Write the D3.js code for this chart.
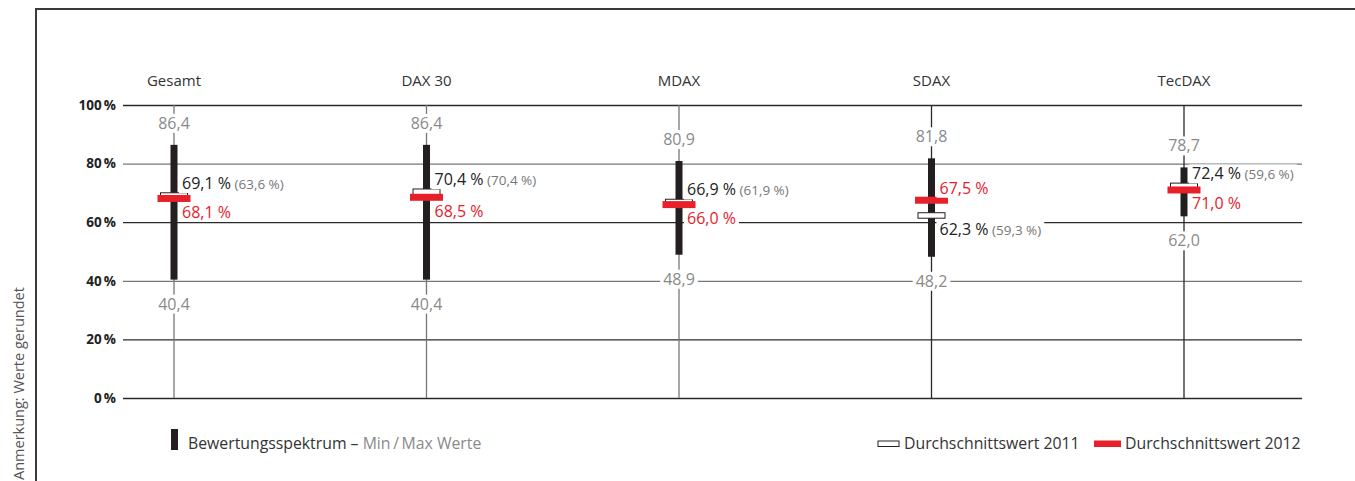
<!DOCTYPE html>
<html>
<head>
<meta charset="utf-8">
<script src="https://cdn.jsdelivr.net/npm/d3@7"></script>
<style>
  body { margin: 0; background: #fff; }
  svg { display: block; font-family: "Open Sans", "Noto Sans", sans-serif; }
</style>
</head>
<body>
<svg id="chart"></svg>
<script>
// data
const categories = ["Gesamt", "DAX 30", "MDAX", "SDAX", "TecDAX"];
const minValues = [40.4, 40.4, 48.9, 48.2, 62.0];
const maxValues = [86.4, 86.4, 80.9, 81.8, 78.7];
const avg2011 = [69.1, 70.4, 66.9, 62.3, 72.4];
const avg2011Prev = [63.6, 70.4, 61.9, 59.3, 59.6];
const avg2012 = [68.1, 68.5, 66.0, 67.5, 71.0];
const yTicks = [0, 20, 40, 60, 80, 100];

const width = 1355, height = 481;
const red = "#e8202a", dark = "#231f20", grey = "#8a8a8a";

const fmt = (v) => d3.format(".1f")(v).replace(".", ",");
const pct = (v) => fmt(v) + " %";

const svg = d3.select("#chart").attr("width", width).attr("height", height);

// scales
const x = d3.scalePoint().domain(categories).range([174, 1184]);
const y = d3.scaleLinear().domain([0, 100]).range([398, 105]);

// frame
svg.append("path")
  .attr("d", `M36,${height}V9H${width}`)
  .attr("fill", "none")
  .attr("stroke", "#3a3a3a")
  .attr("stroke-width", 2);

// note
svg.append("text")
  .attr("transform", `translate(24,480) rotate(-90)`)
  .attr("font-size", 14.5)
  .attr("fill", "#555")
  .text("Anmerkung: Werte gerundet");

// y axis with gridlines
const yAxis = (g) =>
  g.attr("transform", "translate(123,0)")
    .call(d3.axisLeft(y).tickValues(yTicks).tickSize(0).tickPadding(7)
      .tickFormat((d) => d + "\u2009%"))
    .call((g) => g.select(".domain").remove())
    .call((g) => g.selectAll(".tick text")
      .attr("font-family", "'Open Sans', sans-serif")
      .attr("font-size", 13.5).attr("font-weight", 700).attr("fill", "#222"))
    .call((g) => g.selectAll(".tick line").attr("x2", 1302 - 123)
      .attr("stroke", (d) => (d === 80 || d === 40) ? "#777" : "#2a2a2a")
      .attr("stroke-width", 1.3));
svg.append("g").call(yAxis);

// vertical lines per category
svg.append("g")
  .selectAll("line")
  .data(categories)
  .join("line")
  .attr("x1", (d) => x(d)).attr("x2", (d) => x(d))
  .attr("y1", y(100)).attr("y2", y(0))
  .attr("stroke", (d, i) => (i < 3 ? "#777" : "#2a2a2a"))
  .attr("stroke-width", 1.3);

// category labels
svg.append("g")
  .selectAll("text")
  .data(categories)
  .join("text")
  .attr("x", (d) => x(d)).attr("y", 86)
  .attr("text-anchor", "middle")
  .attr("font-size", 15)
  .attr("fill", "#333")
  .text((d) => d);

// helper: text with white background box
function labelWithBg(parent, parts, xPos, yPos, anchor) {
  const g = parent.append("g");
  const bg = g.append("rect").attr("fill", "#fff");
  const t = g.append("text").attr("x", xPos).attr("y", yPos).attr("text-anchor", anchor || "start");
  parts.forEach((p) => {
    t.append("tspan").attr("font-size", p.size).attr("fill", p.color).text(p.text);
  });
  const b = t.node().getBBox();
  bg.attr("x", b.x - 3).attr("y", b.y + 2).attr("width", b.width + 6).attr("height", b.height - 3);
  return g;
}

const rows = categories.map((c, i) => ({
  cat: c, min: minValues[i], max: maxValues[i],
  a11: avg2011[i], prev: avg2011Prev[i], a12: avg2012[i]
}));

const marks = svg.append("g");

rows.forEach((d) => {
  const cx = x(d.cat);
  // min / max labels
  labelWithBg(marks, [{ text: fmt(d.max), size: 16, color: grey }], cx, y(d.max) - 16, "middle");
  labelWithBg(marks, [{ text: fmt(d.min), size: 16, color: grey }], cx, y(d.min) + 30, "middle");

  // range bar
  marks.append("rect")
    .attr("x", cx - 3.5).attr("width", 7)
    .attr("y", y(d.max)).attr("height", y(d.min) - y(d.max))
    .attr("fill", dark);

  // 2011 average
  marks.append("rect")
    .attr("x", cx - 13.5).attr("width", 27)
    .attr("y", y(d.a11) - 2.75).attr("height", 5.5)
    .attr("fill", "#fff").attr("stroke", dark).attr("stroke-width", 1);

  // 2012 average
  marks.append("rect")
    .attr("x", cx - 16.5).attr("width", 33)
    .attr("y", y(d.a12) - 3.5).attr("height", 7)
    .attr("fill", red);

  const upper2011 = d.a11 >= d.a12;
  const label11 = [
    { text: pct(d.a11), size: 16, color: "#222" },
    { text: " (" + pct(d.prev) + ")", size: 13.5, color: "#777" }
  ];
  const label12 = [{ text: pct(d.a12), size: 16, color: red }];
  const upY = (v) => y(v) - 6.5;
  const downY = (v) => y(v) + 19.5;
  if (upper2011) {
    labelWithBg(marks, label11, cx + 8, upY(d.a11));
    labelWithBg(marks, label12, cx + 8, downY(d.a12));
  } else {
    labelWithBg(marks, label12, cx + 8, upY(d.a12));
    labelWithBg(marks, label11, cx + 8, downY(d.a11));
  }
});

// legend
const legend = svg.append("g");
legend.append("rect").attr("x", 171).attr("y", 429).attr("width", 7).attr("height", 21).attr("fill", dark);
const lt = legend.append("text").attr("x", 188).attr("y", 449).attr("font-size", 15.8);
lt.append("tspan").attr("fill", "#333").text("Bewertungsspektrum – ");
lt.append("tspan").attr("fill", grey).text("Min\u2009/\u2009Max Werte");

legend.append("rect").attr("x", 878).attr("y", 441).attr("width", 21).attr("height", 5.5)
  .attr("fill", "#fff").attr("stroke", dark).attr("stroke-width", 1);
legend.append("text").attr("x", 904).attr("y", 449).attr("font-size", 15.8).attr("fill", "#333")
  .text("Durchschnittswert 2011");
legend.append("rect").attr("x", 1094).attr("y", 440.5).attr("width", 27).attr("height", 6.5).attr("fill", red);
legend.append("text").attr("x", 1125).attr("y", 449).attr("font-size", 15.8).attr("fill", "#333")
  .text("Durchschnittswert 2012");
</script>
</body>
</html>
